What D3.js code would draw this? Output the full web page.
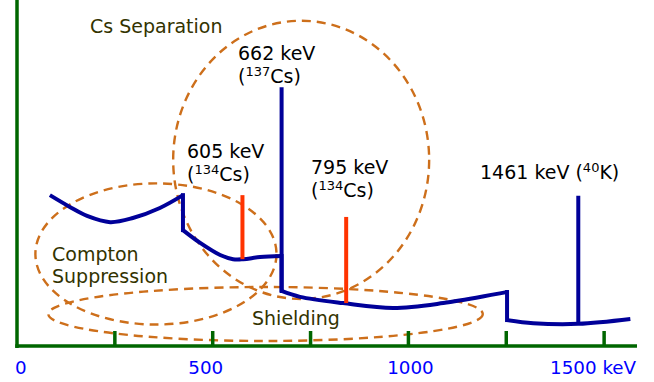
<!DOCTYPE html>
<html>
<head>
<meta charset="utf-8">
<script src="https://cdn.jsdelivr.net/npm/d3@7"></script>
<style>
  html, body { margin: 0; padding: 0; background: #fff; }
  svg { display: block; }
  text { font-family: "DejaVu Sans", Verdana, sans-serif; }
</style>
</head>
<body>
<svg id="chart" width="654" height="382"></svg>
<script>
// ---------- data (energy in keV, counts in arbitrary units) ----------
const axisTicks = [250, 500, 750, 1000, 1250, 1500];
const tickLabels = ["0", "500", "1000", "1500 keV"];
const tickLabelValues = [0, 500, 1000, 1500];

// continuum segments (between the Compton edges / steps)
const continuumA = [[84, 43.6], [135, 40.2], [179, 37.6], [238, 35.8], [296, 37.0], [365, 39.9], [424, 43.6]];
const continuumB = [[424, 33.5], [468, 29.8], [519, 26.3], [552, 25.1], [578, 25.1], [621, 25.7], [676, 26.0]];
const continuumC = [[676, 15.9], [723, 14.2], [833, 12.4], [961, 11.0], [1089, 12.4], [1252, 15.6]];
const continuumD = [[1252, 7.5], [1319, 6.6], [1434, 6.4], [1567, 7.8]];

// peaks: drawn energy position, top count, base count
const bluePeakPos = [676, 1434];
const bluePeakTop = [74.8, 43.4];
const bluePeakBase = [15.9, 6.4];
const redPeakPos = [576, 841];
const redPeakTop = [43.6, 37.3];
const redPeakBase = [25.1, 12.4];

// dashed regions: centre energy, centre count, radius keV, radius counts
const regionNames = ["Cs Separation", "Compton Suppression", "Shielding"];
const regionCx = [726, 355, 635];
const regionCy = [53.8, 26.6, 9.25];
const regionRx = [327, 308, 555];
const regionRy = [40.2, 20.4, 7.8];

// ---------- scales ----------
const svg = d3.select("#chart");
const x = d3.scaleLinear().domain([0, 1584]).range([17, 637]);
const y = d3.scaleLinear().domain([0, 100]).range([346, 0]);

const BLUE = "#000099", RED = "#ff3300", GREEN = "#006600",
      ORANGE = "#cd6f1b", OLIVE = "#333300", TICKBLUE = "#0000ff";

// ---------- dashed ellipses ----------
svg.append("g").selectAll("ellipse")
  .data(regionNames)
  .join("ellipse")
  .attr("cx", (d, i) => x(regionCx[i]))
  .attr("cy", (d, i) => y(regionCy[i]))
  .attr("rx", (d, i) => x(regionRx[i]) - x(0))
  .attr("ry", (d, i) => y(0) - y(regionRy[i]))
  .attr("fill", "none")
  .attr("stroke", ORANGE)
  .attr("stroke-width", 2.4)
  .attr("stroke-dasharray", "9,6");

// ---------- continuum ----------
const line = d3.line().x(d => x(d[0])).y(d => y(d[1])).curve(d3.curveCatmullRom.alpha(0.5));
const segs = [continuumA, continuumB, continuumC, continuumD];
const gC = svg.append("g");
segs.forEach(s => {
  gC.append("path").attr("d", line(s)).attr("fill", "none")
    .attr("stroke", BLUE).attr("stroke-width", 4).attr("stroke-linejoin", "round");
});
// vertical steps joining segments
for (let i = 0; i < segs.length - 1; i++) {
  const a = segs[i][segs[i].length - 1], b = segs[i + 1][0];
  gC.append("line")
    .attr("x1", x(a[0])).attr("y1", y(a[1]) - 2)
    .attr("x2", x(b[0])).attr("y2", y(b[1]) + 2)
    .attr("stroke", BLUE).attr("stroke-width", 4);
}

// ---------- peaks ----------
svg.append("g").selectAll("line")
  .data(bluePeakPos)
  .join("line")
  .attr("x1", d => x(d)).attr("x2", d => x(d))
  .attr("y1", (d, i) => y(bluePeakTop[i]))
  .attr("y2", (d, i) => y(bluePeakBase[i]) + 1)
  .attr("stroke", BLUE).attr("stroke-width", 4);

svg.append("g").selectAll("line")
  .data(redPeakPos)
  .join("line")
  .attr("x1", d => x(d)).attr("x2", d => x(d))
  .attr("y1", (d, i) => y(redPeakTop[i]))
  .attr("y2", (d, i) => y(redPeakBase[i]))
  .attr("stroke", RED).attr("stroke-width", 4);

// ---------- axes ----------
const gA = svg.append("g");
gA.append("line").attr("x1", x(0)).attr("x2", x(0)).attr("y1", 0).attr("y2", y(0) + 2)
  .attr("stroke", GREEN).attr("stroke-width", 3.5);
gA.append("line").attr("x1", x(0) - 1.75).attr("x2", x(1584)).attr("y1", y(0)).attr("y2", y(0))
  .attr("stroke", GREEN).attr("stroke-width", 3.5);
gA.selectAll(".tick").data(axisTicks).join("line")
  .attr("x1", d => x(d)).attr("x2", d => x(d))
  .attr("y1", y(0) - 15).attr("y2", y(0))
  .attr("stroke", GREEN).attr("stroke-width", 3.5);

const labelAnchor = ["start", "middle", "middle", "end"];
const labelShift = [-2, -7, 2, 32];
gA.selectAll(".tl").data(tickLabels).join("text")
  .attr("x", (d, i) => x(tickLabelValues[i]) + labelShift[i])
  .attr("y", 374)
  .attr("text-anchor", (d, i) => labelAnchor[i])
  .attr("font-size", 18.3)
  .attr("fill", TICKBLUE)
  .text(d => d);

// ---------- annotation text ----------
const gT = svg.append("g");
function olive(txt, px, py) {
  gT.append("text").attr("x", px).attr("y", py).attr("font-size", 19)
    .attr("fill", OLIVE).text(txt);
}
olive("Cs Separation", 90, 33);
olive("Compton", 52, 260.5);
olive("Suppression", 52, 282.5);
olive("Shielding", 252, 325);

function peakLabel(px, py, energy, mass, el, twoLines) {
  const t = gT.append("text").attr("x", px).attr("y", py).attr("font-size", 19).attr("fill", "#000");
  if (twoLines) {
    t.append("tspan").text(energy + " keV");
    const t2 = gT.append("text").attr("x", px).attr("y", py + 23).attr("font-size", 19).attr("fill", "#000");
    t2.append("tspan").text("(");
    t2.append("tspan").attr("font-size", 13).attr("dy", -7).text(mass);
    t2.append("tspan").attr("dy", 7).text(el + ")");
  } else {
    t.append("tspan").text(energy + " keV (");
    t.append("tspan").attr("font-size", 13).attr("dy", -7).text(mass);
    t.append("tspan").attr("dy", 7).text(el + ")");
  }
}
peakLabel(238, 60, "662", "137", "Cs", true);
peakLabel(187, 158, "605", "134", "Cs", true);
peakLabel(311, 174, "795", "134", "Cs", true);
peakLabel(480, 179, "1461", "40", "K", false);
</script>
</body>
</html>
